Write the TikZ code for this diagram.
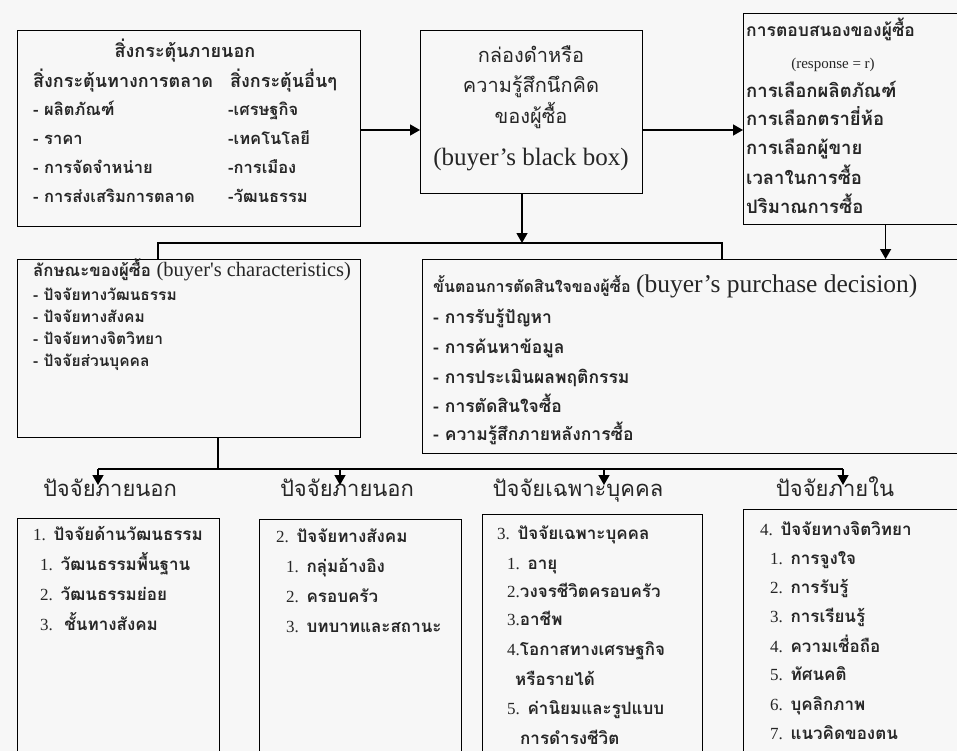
\documentclass[tikz,border=0pt]{standalone}
\usepackage{fontspec}
\setmainfont{Liberation Serif}
\newfontfamily\thf[Script=Thai]{Loma}
\newfontfamily\lat{Liberation Serif}
\usetikzlibrary{arrows.meta}
\newcommand\N[1]{{\lat\mdseries #1}}
\begin{document}
\begin{tikzpicture}[x=1pt,y=-1pt,
  box/.style={draw, line width=1.2pt, inner sep=0, anchor=north west},
  conn/.style={line width=1.4pt},
  arr/.style={conn, -{Triangle[width=11pt,length=10pt]}},
  t/.style={anchor=west, inner sep=0, text height=0.5em, text depth=0pt, text=black!85, font=\thf\bfseries\fontsize{16.5}{18}\selectfont},
  tb/.style={t, font=\thf\bfseries\fontsize{17}{19}\selectfont},
  tr/.style={t, font=\thf\bfseries\fontsize{18.5}{20}\selectfont},
  tk/.style={t, font=\thf\bfseries\fontsize{15.5}{17}\selectfont},
  th/.style={t, font=\thf\bfseries\fontsize{18}{20}\selectfont},
  mid/.style={anchor=center, inner sep=0, text height=0.5em, text depth=0pt, text=black!85, font=\thf\fontsize{20}{22}\selectfont},
  hd/.style={anchor=center, inner sep=0, text height=0.5em, text depth=0pt, text=black!85, font=\thf\fontsize{22}{24}\selectfont},
]
\useasboundingbox (0,0) rectangle (957,751);
\clip (0,0) rectangle (957,751);
\fill[black!3] (0,0) rectangle (957,751);

% boxes
\node[box, minimum width=343, minimum height=196] (stim) at (17,30) {};
\node[box, minimum width=222, minimum height=163] (bb) at (420,30) {};
\node[box, minimum width=284, minimum height=211] (resp) at (743,13) {};
\node[box, minimum width=343, minimum height=178] (char) at (17,259) {};
\node[box, minimum width=560, minimum height=194] (dec) at (422,259) {};
\node[box, minimum width=202, minimum height=260] (b1) at (17,518) {};
\node[box, minimum width=202, minimum height=260] (b2) at (259,519) {};
\node[box, minimum width=220, minimum height=260] (b3) at (482,514) {};
\node[box, minimum width=260, minimum height=260] (b4) at (743,509) {};

% top-left box text
\node[th, anchor=center] (s0) at (185,55) {สิ่งกระตุ้นภายนอก};
\node[th] (s1) at (33,85) {สิ่งกระตุ้นทางการตลาด};
\node[th] (s2) at (230,85) {สิ่งกระตุ้นอื่นๆ};
\node[t] (s3) at (33,113) {- ผลิตภัณฑ์};
\node[t] (s4) at (228,113) {-เศรษฐกิจ};
\node[t] (s5) at (33,142) {- ราคา};
\node[t] (s6) at (228,142) {-เทคโนโลยี};
\node[t] (s7) at (33,171) {- การจัดจำหน่าย};
\node[t] (s8) at (228,171) {-การเมือง};
\node[t] (s9) at (33,200) {- การส่งเสริมการตลาด};
\node[t] (s10) at (228,200) {-วัฒนธรรม};

% black box text
\node[mid] (m1) at (531,60) {กล่องดำหรือ};
\node[mid] (m2) at (531,90) {ความรู้สึกนึกคิด};
\node[mid] (m3) at (531,121) {ของผู้ซื้อ};
\node[anchor=center, inner sep=0, text=black!85, font=\lat\fontsize{25}{27}\selectfont] (m4) at (531,160) {(buyer’s black box)};

% response box text
\node[tr, font=\thf\bfseries\fontsize{17.5}{19}\selectfont] (r0) at (746,34) {การตอบสนองของผู้ซื้อ};
\node[anchor=center, inner sep=0, text=black!85, font=\lat\fontsize{15}{17}\selectfont] (r1) at (833,65) {(response = r)};
\node[tr] (r2) at (746,95) {การเลือกผลิตภัณฑ์};
\node[tr] (r3) at (746,123) {การเลือกตรายี่ห้อ};
\node[tr] (r4) at (746,152) {การเลือกผู้ขาย};
\node[tr] (r5) at (746,182) {เวลาในการซื้อ};
\node[tr] (r6) at (746,211) {ปริมาณการซื้อ};

% characteristics box text
\node[tk, font=\thf\bfseries\fontsize{16.8}{18}\selectfont] (c0) at (33,274) {ลักษณะของผู้ซื้อ {\lat\mdseries\fontsize{20.5}{22}\selectfont (buyer's characteristics)}};
\node[tk] (c1) at (33,298) {- ปัจจัยทางวัฒนธรรม};
\node[tk] (c2) at (33,320) {- ปัจจัยทางสังคม};
\node[tk] (c3) at (33,342) {- ปัจจัยทางจิตวิทยา};
\node[tk] (c4) at (33,364) {- ปัจจัยส่วนบุคคล};

% decision box text
\node[t, font=\thf\bfseries\fontsize{16}{18}\selectfont] (d0) at (433,290) {ขั้นตอนการตัดสินใจของผู้ซื้อ {\lat\mdseries\fontsize{25.5}{27}\selectfont (buyer’s purchase decision)}};
\node[tr, font=\thf\bfseries\fontsize{17.5}{19}\selectfont] (d1) at (433,321) {- การรับรู้ปัญหา};
\node[tr, font=\thf\bfseries\fontsize{17.5}{19}\selectfont] (d2) at (433,351) {- การค้นหาข้อมูล};
\node[tr, font=\thf\bfseries\fontsize{17.5}{19}\selectfont] (d3) at (433,381) {- การประเมินผลพฤติกรรม};
\node[tr, font=\thf\bfseries\fontsize{17.5}{19}\selectfont] (d4) at (433,410) {- การตัดสินใจซื้อ};
\node[tr, font=\thf\bfseries\fontsize{17.5}{19}\selectfont] (d5) at (433,438) {- ความรู้สึกภายหลังการซื้อ};

% headers
\node[hd] (h1) at (110,494) {ปัจจัยภายนอก};
\node[hd] (h2) at (347,494) {ปัจจัยภายนอก};
\node[hd] (h3) at (578,494) {ปัจจัยเฉพาะบุคคล};
\node[hd] (h4) at (835,494) {ปัจจัยภายใน};

% bottom boxes text
\node[tb] (p10) at (33,538) {\N{1.} ปัจจัยด้านวัฒนธรรม};
\node[tb] (p11) at (40,568) {\N{1.} วัฒนธรรมพื้นฐาน};
\node[tb] (p12) at (40,598) {\N{2.} วัฒนธรรมย่อย};
\node[tb] (p13) at (40,628) {\N{3.}\ \ ชั้นทางสังคม};

\node[tb] (p20) at (276,540) {\N{2.} ปัจจัยทางสังคม};
\node[tb] (p21) at (286,570) {\N{1.} กลุ่มอ้างอิง};
\node[tb] (p22) at (286,600) {\N{2.} ครอบครัว};
\node[tb] (p23) at (286,630) {\N{3.} บทบาทและสถานะ};

\node[tb] (p30) at (497,537) {\N{3.} ปัจจัยเฉพาะบุคคล};
\node[tb] (p31) at (507,567) {\N{1.} อายุ};
\node[tb] (p32) at (507,595) {\N{2.}วงจรชีวิตครอบครัว};
\node[tb] (p33) at (507,623) {\N{3.}อาชีพ};
\node[tb] (p34) at (507,653) {\N{4.}โอกาสทางเศรษฐกิจ};
\node[tb] (p35) at (515,683) {หรือรายได้};
\node[tb] (p36) at (507,712) {\N{5.} ค่านิยมและรูปแบบ};
\node[tb] (p37) at (520,742) {การดำรงชีวิต};

\node[tb] (p40) at (760,533) {\N{4.} ปัจจัยทางจิตวิทยา};
\node[tb] (p41) at (770,562) {\N{1.} การจูงใจ};
\node[tb] (p42) at (770,591) {\N{2.} การรับรู้};
\node[tb] (p43) at (770,620) {\N{3.} การเรียนรู้};
\node[tb] (p44) at (770,650) {\N{4.} ความเชื่อถือ};
\node[tb] (p45) at (770,678) {\N{5.} ทัศนคติ};
\node[tb] (p46) at (770,708) {\N{6.} บุคลิกภาพ};
\node[tb] (p47) at (770,737) {\N{7.} แนวคิดของตน};

% connectors
\coordinate (row) at (0,130);
\draw[arr] (stim.east |- row) -- (bb.west |- row);
\draw[arr] (bb.east |- row) -- (resp.west |- row);

\coordinate (jL) at (158,243);
\coordinate (jM) at (522,243);
\coordinate (jR) at (722,243);
\draw[conn] (char.north -| jL) -- (jL) -- (jR) -- (dec.north -| jR);
\draw[arr] (bb.south -| jM) -- (jM);
\draw[arr] (resp.south) -- (dec.north -| resp.south);

\coordinate (kC) at (218,469);
\coordinate (kL) at (98,469);
\coordinate (k2) at (340,469);
\coordinate (k3) at (604,469);
\coordinate (kR) at (843,469);
\coordinate (tipy) at (0,485);
\draw[conn] (char.south -| kC) -- (kC);
\draw[conn] (kL) -- (kR);
\draw[arr] (kL) -- (kL |- tipy);
\draw[arr] (k2) -- (k2 |- tipy);
\draw[arr] (k3) -- (k3 |- tipy);
\draw[arr] (kR) -- (kR |- tipy);
\end{tikzpicture}
\end{document}
